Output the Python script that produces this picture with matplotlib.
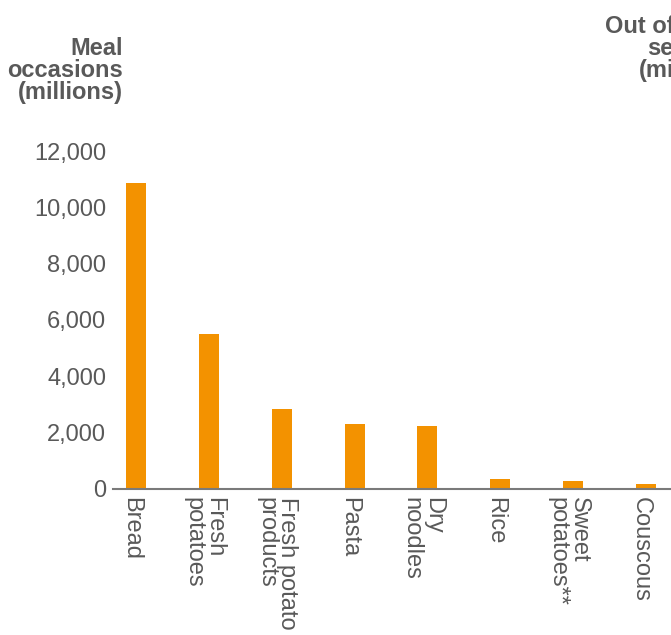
import matplotlib
matplotlib.use("Agg")
import matplotlib.pyplot as plt
from matplotlib.ticker import FuncFormatter
from matplotlib.transforms import ScaledTranslation

plt.rcParams['font.family'] = ['Liberation Sans', 'DejaVu Sans']

categories = ["Bread", "Fresh\npotatoes", "Fresh potato\nproducts", "Pasta",
              "Dry\nnoodles", "Rice", "Sweet\npotatoes**", "Couscous"]
meal_occasions = [10880, 5500, 2830, 2300, 2220, 340, 270, 160]
y_ticks = [0, 2000, 4000, 6000, 8000, 10000, 12000]

BAR = "#F39200"
TEXT = "#595959"
AXIS = "#7a7a7a"
FS = 17

fig = plt.figure(figsize=(6.71, 6.35), dpi=100)
ax = fig.add_axes([113 / 671, (635 - 488.5) / 635, 558 / 671, (488.5 - 151.4) / 635])

x = list(range(len(categories)))
ax.bar(x, meal_occasions, width=0.275, color=BAR, zorder=2)

ax.set_xlim(-0.3157, 7.343)
ax.set_ylim(0, 12000)
ax.set_yticks(y_ticks)
ax.yaxis.set_major_formatter(FuncFormatter(lambda v, p: f"{int(v):,}"))
ax.set_xticks(x)
ax.set_xticklabels(categories, rotation=-90, ha="center", va="top",
                   multialignment="left", linespacing=0.95)

ax.tick_params(axis="y", length=0, pad=5, labelsize=FS, labelcolor=TEXT)
ax.tick_params(axis="x", length=0, pad=6, labelsize=FS, labelcolor=TEXT)

# nudge the rotated category labels so the glyphs sit centred under each bar
shift = ScaledTranslation(-5 / 100, 0, fig.dpi_scale_trans)
for lbl in ax.get_xticklabels():
    lbl.set_transform(lbl.get_transform() + shift)

for side in ("top", "right", "left"):
    ax.spines[side].set_visible(False)
ax.spines["bottom"].set_color(AXIS)
ax.spines["bottom"].set_linewidth(1.5)
ax.spines["bottom"].set_zorder(3)

fig.text(123 / 671, 1 - 37 / 635, "Meal\noccasions\n(millions)", ha="right", va="top",
         fontsize=FS, fontweight="bold", color=TEXT, linespacing=0.95,
         multialignment="right")
fig.text(744 / 671, 1 - 15 / 635, "Out of home\nservings\n(millions)", ha="right", va="top",
         fontsize=FS, fontweight="bold", color=TEXT, linespacing=0.95,
         multialignment="right")

fig.savefig("out.png", dpi=100)
